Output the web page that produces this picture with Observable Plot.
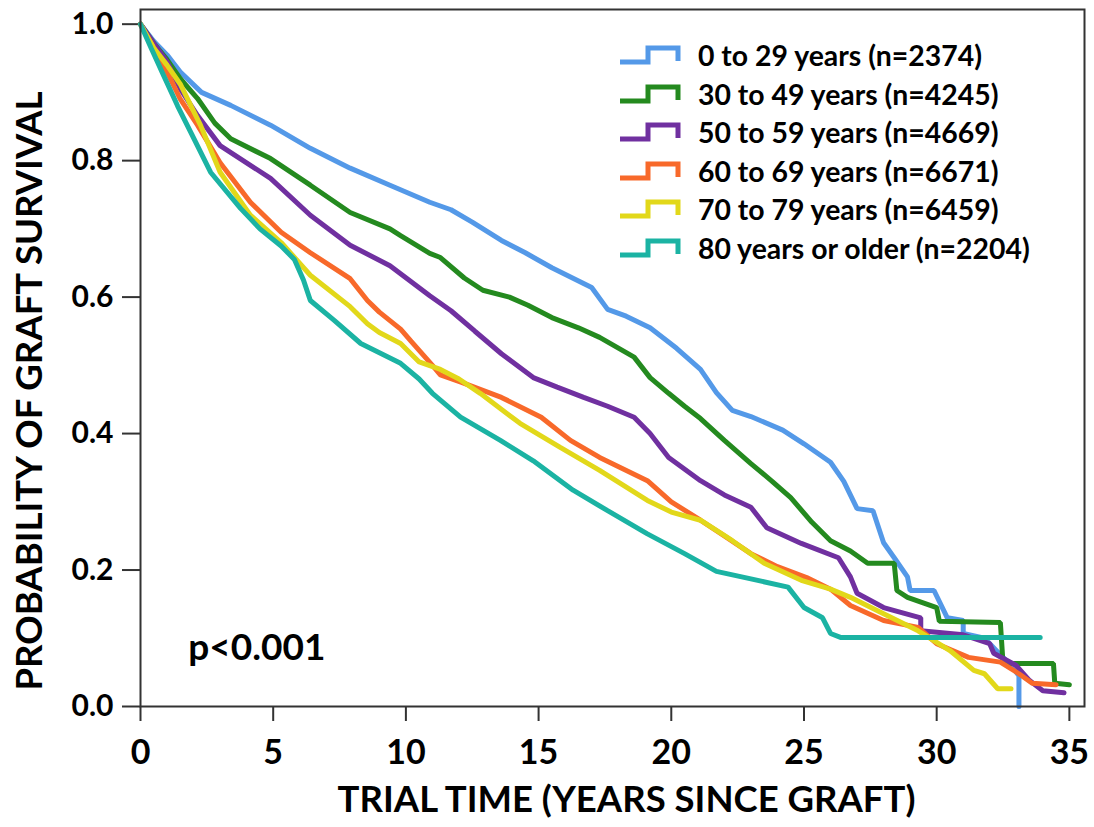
<!DOCTYPE html>
<html>
<head>
<meta charset="utf-8">
<script src="https://cdn.jsdelivr.net/npm/d3@7"></script>
<script src="https://cdn.jsdelivr.net/npm/@observablehq/plot@0.6"></script>
<style>
  html, body { margin: 0; padding: 0; background: #fff; }
  #wrap { position: relative; width: 1094px; height: 827px; font-family: Lato, "Open Sans", sans-serif; font-weight: bold; }
  .lg-row { position: absolute; left: 620px; height: 30px; display: flex; align-items: center; white-space: nowrap; }
  .lg-row svg { width: 62px; height: 24px; margin-right: 16px; }
  .lg-row span { font-size: 28.4px; color: #000; }
</style>
</head>
<body>
<div id="wrap"></div>
<script>
// ---- data ----
const groups = ["0 to 29 years (n=2374)", "30 to 49 years (n=4245)", "50 to 59 years (n=4669)",
                "60 to 69 years (n=6671)", "70 to 79 years (n=6459)", "80 years or older (n=2204)"];
const colors = ["#5499E8", "#248A1F", "#7030A0", "#F8692A", "#E2D81A", "#1BB3A3"];
const xTicks = [0, 5, 10, 15, 20, 25, 30, 35];
const yTicks = [0, 0.2, 0.4, 0.6, 0.8, 1.0];
const xLabel = "TRIAL TIME (YEARS SINCE GRAFT)";
const yLabel = "PROBABILITY OF GRAFT SURVIVAL";
const pLabel = "p<0.001";

const age0to29 = [[0,1],[0.5,0.975],[1,0.955],[1.5,0.93],[2.3,0.9],[3.4,0.881],[4.9,0.852],[6.4,0.818],[7.9,0.789],[9.4,0.764],[10.9,0.739],[11.7,0.728],[12.5,0.71],[13.6,0.683],[14.5,0.665],[15.5,0.643],[17.0,0.614],[17.6,0.582],[18.3,0.572],[19.2,0.555],[20.2,0.525],[21.1,0.494],[21.7,0.46],[22.3,0.434],[23.0,0.425],[24.2,0.405],[25.0,0.385],[26.0,0.358],[26.5,0.33],[27.0,0.29],[27.6,0.287],[28.0,0.24],[28.4,0.218],[28.9,0.19],[29.0,0.17],[29.9,0.17],[30.4,0.13],[31.0,0.126],[31.0,0.107],[31.8,0.1],[32.3,0.08],[32.8,0.06],[33.1,0.045],[33.1,0.0]];
const age30to49 = [[0,1],[0.5,0.972],[1,0.948],[1.5,0.92],[2.15,0.891],[2.8,0.855],[3.4,0.832],[4.9,0.803],[6.4,0.764],[7.9,0.724],[9.4,0.7],[9.8,0.69],[10.9,0.664],[11.3,0.658],[12.2,0.628],[12.9,0.61],[13.9,0.6],[14.6,0.588],[15.5,0.57],[16.5,0.555],[17.3,0.541],[18.6,0.512],[19.2,0.482],[19.9,0.459],[20.5,0.44],[21.1,0.422],[22.0,0.39],[23.0,0.356],[23.8,0.33],[24.5,0.306],[25.3,0.27],[26.0,0.243],[26.75,0.228],[27.4,0.21],[28.4,0.21],[28.5,0.17],[28.9,0.16],[30.0,0.145],[30.1,0.125],[32.4,0.123],[32.5,0.063],[34.4,0.063],[34.45,0.034],[35.0,0.032]];
const age50to59 = [[0,1],[0.5,0.972],[1,0.945],[1.5,0.905],[2.15,0.866],[3.0,0.822],[4.9,0.774],[6.4,0.72],[7.9,0.676],[9.4,0.646],[10.9,0.602],[11.7,0.58],[12.6,0.55],[13.6,0.517],[14.8,0.482],[15.7,0.468],[16.7,0.453],[17.6,0.44],[18.6,0.424],[19.2,0.4],[19.9,0.365],[21.1,0.331],[22.0,0.31],[23.0,0.292],[23.6,0.262],[24.9,0.239],[26.3,0.218],[26.75,0.19],[27.0,0.166],[28.0,0.145],[29.4,0.13],[29.4,0.111],[31.0,0.105],[32.0,0.092],[32.15,0.078],[33.0,0.06],[33.5,0.038],[34.0,0.023],[34.8,0.02]];
const age60to69 = [[0,1],[0.5,0.965],[1,0.93],[1.5,0.89],[2.15,0.852],[3.0,0.797],[4.14,0.739],[5.3,0.695],[6.4,0.665],[7.9,0.627],[8.55,0.595],[9.0,0.578],[9.8,0.553],[10.2,0.535],[11.0,0.5],[11.3,0.486],[12.1,0.475],[13.6,0.453],[15.1,0.424],[16.2,0.39],[17.3,0.365],[19.1,0.331],[20.0,0.3],[21.1,0.273],[22.0,0.25],[23.0,0.224],[24.0,0.205],[25.1,0.189],[26.0,0.172],[26.75,0.148],[28.0,0.126],[29.3,0.116],[30.0,0.092],[31.2,0.072],[32.4,0.065],[33.1,0.048],[33.6,0.034],[34.5,0.032]];
const age70to79 = [[0,1],[0.5,0.965],[1,0.94],[1.5,0.912],[2.26,0.852],[3.0,0.783],[4.14,0.72],[5.3,0.68],[6.4,0.632],[7.9,0.586],[8.55,0.561],[9.0,0.548],[9.8,0.532],[10.5,0.505],[11.3,0.494],[12.0,0.48],[12.8,0.459],[14.3,0.415],[15.8,0.38],[17.3,0.346],[19.1,0.302],[20.0,0.285],[21.1,0.273],[22.3,0.243],[23.5,0.21],[24.9,0.185],[26.0,0.172],[26.75,0.16],[28.0,0.136],[29.3,0.111],[30.5,0.082],[31.4,0.053],[31.8,0.048],[32.3,0.026],[32.8,0.026]];
const age80plus = [[0,1],[0.4,0.965],[0.87,0.925],[1.4,0.88],[1.9,0.841],[2.64,0.783],[3.77,0.73],[4.5,0.7],[5.3,0.675],[5.8,0.655],[6.14,0.625],[6.4,0.595],[7.3,0.566],[8.3,0.532],[9.8,0.503],[10.5,0.48],[11.0,0.459],[12.06,0.424],[13.56,0.39],[14.8,0.36],[16.3,0.317],[17.6,0.287],[19.1,0.253],[20.5,0.224],[21.7,0.198],[23.0,0.187],[24.4,0.175],[25.0,0.145],[25.7,0.13],[26.0,0.107],[26.4,0.101],[33.9,0.101]];

const seriesList = [age0to29, age30to49, age50to59, age60to69, age70to79, age80plus];
const table = seriesList.flatMap((s, i) => s.map(([t, p]) => ({group: groups[i], t, p})));

const chart = Plot.plot({
  width: 1094,
  height: 827,
  marginLeft: 140,
  marginTop: 9,
  marginRight: 10,
  marginBottom: 121,
  style: {fontFamily: "Lato, 'Open Sans', sans-serif", fontWeight: "bold", color: "#000", background: "#fff"},
  x: {domain: [0, 35.57]},
  y: {domain: [0, 1.0215]},
  color: {domain: groups, range: colors},
  marks: [
    Plot.axisX({ticks: xTicks, tickSize: 15, tickPadding: 18, fontSize: 34, tickFormat: d => String(d), label: null, stroke: "#333", strokeWidth: 2}),
    Plot.axisY({ticks: yTicks, tickSize: 18, tickPadding: 9, fontSize: 30, tickFormat: d3.format(".1f"), label: null, stroke: "#333", strokeWidth: 2}),
    Plot.line(table, {x: "t", y: "p", z: "group", stroke: "group", strokeWidth: 5, strokeLinejoin: "miter"}),
    Plot.frame({stroke: "#333", strokeWidth: 2}),
    Plot.text([pLabel], {x: 1.8, y: 0.086, text: d => d, textAnchor: "start", fontSize: 37, fill: "#000"}),
    Plot.text([xLabel], {frameAnchor: "bottom", dx: 14, dy: 94, text: d => d, fontSize: 36.5, lineAnchor: "middle", fill: "#000"}),
    Plot.text([yLabel], {frameAnchor: "left", textAnchor: "middle", dx: -110, dy: 33, rotate: -90, text: d => d, fontSize: 36.5, lineAnchor: "middle", fill: "#000"})
  ]
});

const wrap = document.getElementById("wrap");
wrap.appendChild(chart);

groups.forEach((g, i) => {
  const row = document.createElement("div");
  row.className = "lg-row";
  row.style.top = (55 + i * 38.6 - 15) + "px";
  row.innerHTML = `<svg viewBox="0 0 62 24"><path d="M0,19 H28 V5 H58 V18" fill="none" stroke="${colors[i]}" stroke-width="5"/></svg><span>${g}</span>`;
  wrap.appendChild(row);
});
</script>
</body>
</html>
